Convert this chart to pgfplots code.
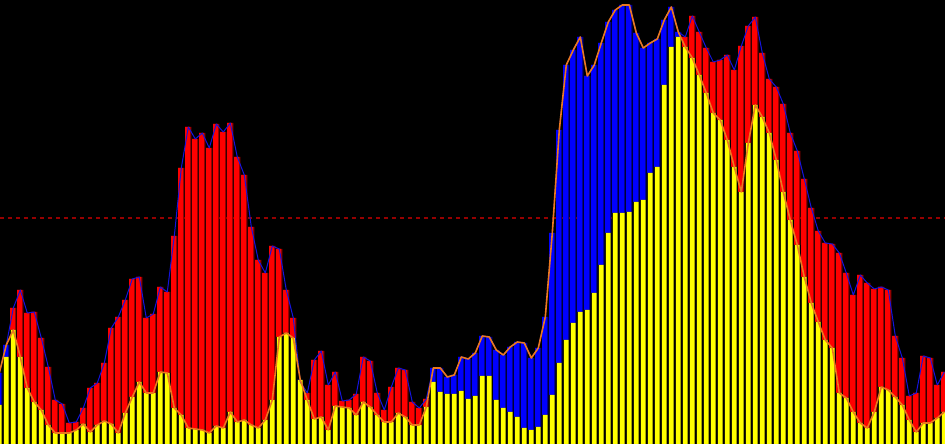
\documentclass[border=0pt]{standalone}
\usepackage{pgfplots}
\usepackage{pgfplotstable}
\pgfplotsset{compat=1.18}
\definecolor{myred}{RGB}{255,0,0}
\definecolor{darkred}{RGB}{150,0,0}
\definecolor{myblue}{RGB}{0,0,255}
\definecolor{darkblue}{RGB}{0,0,150}
\definecolor{lineblue}{RGB}{20,20,220}
\definecolor{orangeline}{RGB}{235,120,30}
\definecolor{dashred}{RGB}{150,0,0}
\definecolor{myyellow}{RGB}{255,255,0}
\pgfplotstableread{
k Y R O
0 39 nan 71
1 87 nan 99
2 114 136 114
3 87 154 87
4 56 131 56
5 42 132 42
6 34 106 34
7 19 77 19
8 11 44 11
9 11 40 11
10 11 21 11
11 14 22 14
12 20 36 20
13 12 56 12
14 19 61 19
15 23 81 23
16 20 116 20
17 11 127 11
18 31 144 31
19 47 165 47
20 62 167 62
21 51 126 51
22 51 130 51
23 72 157 72
24 71 152 71
25 36 208 36
26 29 276 29
27 16 317 16
28 15 305 15
29 14 311 14
30 11 296 11
31 18 320 18
32 16 312 16
33 32 321 32
34 22 287 22
35 24 269 24
36 19 217 19
37 16 184 16
38 24 171 24
39 44 198 44
40 107 195 107
41 111 154 111
42 106 126 106
43 64 62 64
44 44 51 44
45 25 84 25
46 27 93 27
47 14 59 14
48 38 72 38
49 37 43 37
50 36 44 36
51 29 50 29
52 42 87 42
53 37 83 37
54 29 51 29
55 22 34 22
56 22 57 22
57 31 76 31
58 27 74 27
59 19 42 19
60 19 36 19
61 37 45 37
62 62 nan 76
63 52 nan 76
64 50 nan 67
65 50 nan 69
66 53 nan 87
67 45 nan 85
68 48 nan 91
69 68 nan 108
70 68 nan 107
71 44 nan 94
72 36 nan 89
73 32 nan 97
74 27 nan 102
75 16 nan 101
76 14 nan 86
77 17 nan 96
78 29 nan 127
79 49 nan 211
80 81 nan 314
81 104 nan 379
82 121 nan 394
83 132 nan 407
84 134 nan 368
85 151 nan 379
86 179 nan 401
87 211 nan 422
88 231 nan 434
89 231 nan 439
90 232 nan 439
91 242 nan 411
92 244 nan 396
93 271 nan 401
94 277 nan 405
95 359 nan 424
96 397 nan 437
97 407 nan 412
98 397 407 397
99 386 428 386
100 369 412 369
101 351 396 351
102 331 382 331
103 324 384 324
104 304 389 304
105 277 374 277
106 252 398 252
107 301 418 301
108 339 427 339
109 327 391 327
110 311 365 311
111 284 357 284
112 252 340 252
113 224 311 224
114 199 293 199
115 167 265 167
116 141 236 141
117 122 213 122
118 104 201 104
119 96 200 96
120 51 191 51
121 46 171 46
122 32 149 32
123 21 169 21
124 16 161 16
125 32 155 32
126 57 157 57
127 54 154 54
128 47 108 47
129 39 86 39
130 24 48 24
131 12 51 12
132 21 88 21
133 21 86 21
134 26 59 26
135 32 72 32
}\data
\pgfplotstableread{
k L
0 71
1 99
2 136
3 154
4 131
5 132
6 106
7 77
8 44
9 40
10 21
11 22
12 36
13 56
14 61
15 81
16 116
17 127
18 144
19 165
20 167
21 126
22 130
23 157
24 152
25 208
26 276
27 317
28 305
29 311
30 296
31 320
32 312
33 321
34 287
35 269
36 217
37 184
38 171
39 198
40 195
41 154
42 126
43 62
44 51
45 84
46 93
47 59
48 72
49 43
50 44
51 50
52 87
53 83
54 51
55 34
56 57
57 76
58 74
59 42
60 36
61 45
62 76
63 76
64 67
65 69
66 87
67 85
68 91
69 108
70 107
71 94
72 89
73 97
74 102
75 101
76 86
77 96
78 127
79 211
80 314
81 379
82 394
83 407
84 368
85 379
86 401
87 422
88 434
89 439
90 439
91 411
92 396
93 401
94 405
95 424
96 437
97 412
98 407
99 428
100 412
101 396
102 382
103 384
104 389
105 374
106 398
107 418
108 427
109 391
110 365
111 357
112 340
113 311
114 293
115 265
116 236
117 213
118 201
119 200
120 191
121 171
122 149
123 169
124 161
125 155
126 157
127 154
128 108
129 86
130 48
131 51
132 88
133 86
134 59
135 72
}\linedata
\begin{document}
\begin{tikzpicture}
\begin{axis}[
  width=945bp, height=444bp, scale only axis,
  xmin=0.1, xmax=135.1, ymin=0, ymax=444,
  axis line style={draw=none}, ticks=none,
  axis background/.style={fill=black},
  unbounded coords=discard,
]
\addplot[dashred, line width=1.1bp, dash pattern=on 4bp off 4bp] coordinates {(0.1,226) (135.1,226)};
% blue histogram
\addplot[ybar, bar width=6.3bp, bar shift=0pt, fill=darkblue, draw=none] table[x=k,y=O] {\data};
\addplot[ybar, bar width=4.6bp, bar shift=-0.85bp, fill=myblue, draw=none] table[x=k,y=O] {\data};
% red histogram
\addplot[ybar, bar width=6.3bp, bar shift=0pt, fill=darkred, draw=none] table[x=k,y=R] {\data};
\addplot[ybar, bar width=4.6bp, bar shift=-0.85bp, fill=myred, draw=none] table[x=k,y=R] {\data};
% yellow histogram with black gaps
\addplot[ybar, bar width=7bp, bar shift=0pt, fill=black, draw=none] table[x=k,y=Y] {\data};
\addplot[ybar, bar width=4.7bp, bar shift=0pt, fill=myyellow, draw=none] table[x=k,y=Y] {\data};
% lines
\addplot[lineblue, line width=1bp, line join=round] table[x=k,y=L] {\linedata};
\addplot[orangeline, line width=1.6bp, line join=round] table[x=k,y=O] {\data};
\end{axis}
\end{tikzpicture}
\end{document}
